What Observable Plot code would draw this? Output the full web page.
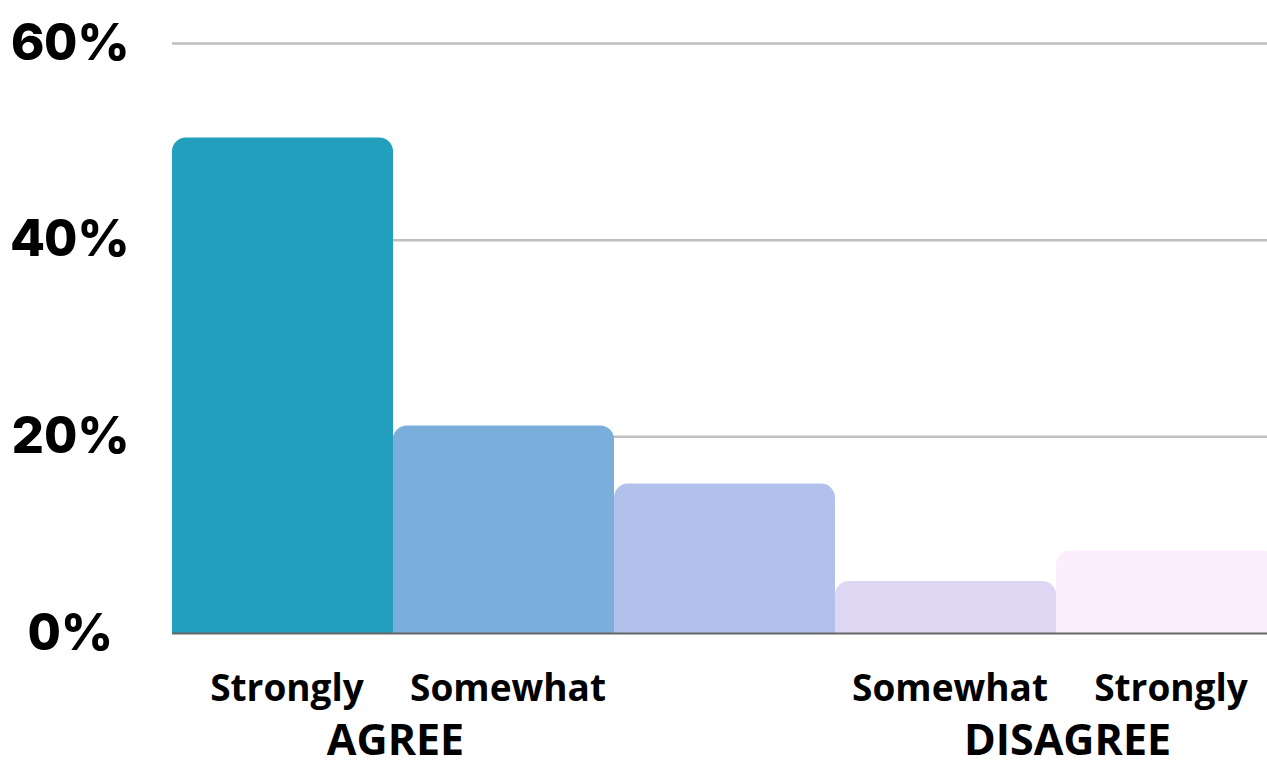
<!DOCTYPE html>
<html>
<head>
<meta charset="utf-8">
<script src="https://cdn.jsdelivr.net/npm/d3@7"></script>
<script src="https://cdn.jsdelivr.net/npm/@observablehq/plot@0.6"></script>
<style>
  html, body { margin: 0; padding: 0; background: #fff; overflow: hidden; }
</style>
</head>
<body>
<div id="chart"></div>
<script>
// Survey responses on a five-point agreement scale (percent of respondents)
const responses = ["Strongly agree", "Somewhat agree", "Neutral", "Somewhat disagree", "Strongly disagree"];
const shares = [50.4, 21.1, 15.2, 5.3, 8.4];
const barColors = ["#229fbd", "#7aafdb", "#b1c1ec", "#dfd6f4", "#fdeefd"];
const tickLabels = ["Strongly", "Somewhat", "", "Somewhat", "Strongly"];
const groups = ["AGREE", "DISAGREE"];
const groupAt = [1, 4]; // group label sits on the boundary between its two bars
const yTicks = [0, 20, 40, 60];

const rows = responses.map((r, i) => ({
  response: r, share: shares[i], color: barColors[i], label: tickLabels[i], i
}));
const groupRows = groups.map((g, k) => ({ group: g, at: groupAt[k] }));

const groupText = (row, dx) => Plot.text([row], {
  x: "at", y: 0, text: "group", dy: 108, dx,
  fontSize: 43, fontWeight: 700, fontFamily: "Open Sans", fill: "#000"
});

const chart = Plot.plot({
  width: 1267,
  height: 762,
  marginLeft: 172,
  marginRight: 0,
  marginTop: 43,
  marginBottom: 129,
  x: { domain: [0, responses.length], range: [172, 1277], axis: null },
  y: { domain: [0, 60], ticks: yTicks },
  marks: [
    Plot.ruleY(yTicks.filter(d => d > 0), { stroke: "#bfbfbf", strokeWidth: 2.5 }),
    Plot.rectY(rows, {
      x1: "i", x2: d => d.i + 1, y: "share",
      fill: "color", ry2: 14, clip: true
    }),
    Plot.ruleY([0], { stroke: "#666", strokeWidth: 2 }),
    Plot.axisY({
      ticks: yTicks, tickFormat: d => d + "%", tickSize: 0, tickPadding: 102,
      textAnchor: "middle", fontSize: 51, fontWeight: 800,
      fontFamily: "Inter", fill: "#000", label: null
    }),
    Plot.text(rows.filter(d => d.label), {
      x: d => d.i + 0.5, y: 0, text: "label", dy: 56, dx: 4,
      fontSize: 37, fontWeight: 700, fontFamily: "Open Sans", fill: "#000"
    }),
    groupText(groupRows[0], 2),
    groupText(groupRows[1], 11)
  ]
});
document.getElementById("chart").append(chart);
</script>
</body>
</html>
